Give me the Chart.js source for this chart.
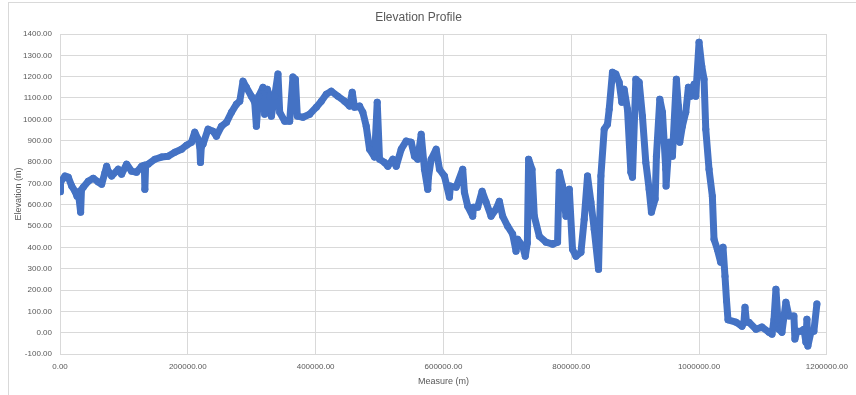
<!DOCTYPE html>
<html>
<head>
<meta charset="utf-8">
<script src="https://cdn.jsdelivr.net/npm/chart.js@4"></script>
<style>
  body { margin: 0; background: #fff; }
  #box {
    position: absolute; left: 8px; top: 2px;
    width: 847px; height: 392px;
    border-left: 1px solid #d9d9d9;
    border-top: 1px solid #d9d9d9;
  }
</style>
</head>
<body>
<div id="box"><canvas id="elevChart" width="847" height="392"></canvas></div>
<script>
// measure along the route (m)
let measure = [
    0, 800, 7800, 13000, 18300, 23400, 26600, 28600, 32300, 33600,
    36400, 44200, 52000, 59800, 65200, 70300, 73000, 75000, 80800, 91100,
    96400, 104200, 112000, 119800, 127700, 132000, 132800, 134000, 138000, 148400,
    158900, 169200, 179700, 190200, 198000, 205800, 210900, 216100, 218800, 219800,
    221100, 223900, 231700, 239500, 244800, 252700, 260500, 268300, 276100, 281300,
    286400, 291700, 299500, 304700, 307300, 310900, 317700, 320300, 324500, 328100,
    330800, 335900, 341100, 343800, 351600, 359400, 364500, 368300, 371400, 380200,
    390600, 401100, 408900, 416700, 424500, 434800, 445300, 453100, 457300, 460900,
    468800, 473900, 479200, 484400, 492200, 496400, 500000, 507800, 513000, 520800,
    526100, 533900, 541700, 549500, 554700, 559800, 565200, 570300, 575500, 576600,
    580800, 588600, 593800, 601600, 609400, 610900, 619800, 630200, 632800, 638000,
    645800, 646900, 653600, 660500, 666700, 674500, 682300, 687500, 692700, 700500,
    708300, 713600, 716100, 723900, 728100, 731300, 733300, 738600, 742200, 750000,
    760500, 770800, 778600, 781300, 786400, 791700, 796900, 802000, 807300, 815200,
    820300, 825500, 830800, 835900, 842700, 846400, 851600, 856700, 859400, 864500,
    869800, 875000, 879200, 882800, 888000, 893300, 895800, 901100, 906300, 911400,
    916700, 921900, 925500, 931300, 933300, 938600, 942700, 947900, 948400, 953100,
    958300, 964500, 967700, 969800, 973900, 979200, 983300, 987000, 992200, 994800,
    1000000, 1004200, 1007800, 1010500, 1015600, 1020800, 1023400, 1028600, 1033900, 1037500,
    1040600, 1043000, 1045300, 1057800, 1067200, 1070300, 1071900, 1074200, 1078100, 1089100,
    1098400, 1109400, 1114100, 1117200, 1120300, 1123400, 1125000, 1129700, 1135900, 1140600,
    1148400, 1150000, 1153100, 1159400, 1164100, 1167200, 1168800, 1170300, 1175000, 1179700,
    1184400
];

// elevation (m)
let elevation = [
    660, 706, 734, 729, 687, 663, 640, 659, 565, 670,
    682, 710, 724, 706, 696, 750, 780, 760, 734, 766,
    743, 790, 757, 752, 780, 785, 672, 785, 790, 813,
    823, 827, 846, 860, 879, 893, 940, 907, 870, 798,
    870, 884, 954, 944, 921, 968, 986, 1033, 1071, 1085,
    1179, 1150, 1108, 1080, 968, 1108, 1150, 1024, 1141, 1108,
    1015, 1108, 1212, 1033, 991, 991, 1198, 1188, 1015, 1010,
    1024, 1057, 1085, 1118, 1132, 1108, 1085, 1062, 1127, 1057,
    1062, 1033, 968, 860, 823, 1080, 813, 798, 780, 813,
    780, 860, 898, 893, 827, 813, 930, 766, 672, 730,
    813, 860, 766, 734, 635, 687, 682, 766, 659, 593,
    546, 588, 588, 663, 612, 546, 579, 616, 546, 499,
    462, 382, 438, 406, 358, 420, 813, 766, 546, 452,
    424, 415, 424, 752, 687, 546, 672, 391, 358, 377,
    532, 734, 612, 485, 297, 734, 954, 977, 1047, 1221,
    1212, 1174, 1080, 1141, 1047, 752, 729, 1188, 1174, 1015,
    798, 672, 565, 626, 827, 1094, 1033, 766, 687, 893,
    827, 1188, 1062, 893, 968, 1033, 1150, 1108, 1165, 1108,
    1361, 1249, 1188, 954, 766, 640, 438, 391, 330, 400,
    265, 150, 60, 49, 30, 50, 119, 50, 49, 16,
    26, 2, -7, 60, 204, 60, 16, 2, 143, 78,
    78, -30, 7, 7, 16, -45, 63, -63, 2, 7,
    134
];

let xTicks = [0, 200000, 400000, 600000, 800000, 1000000, 1200000];
let yTicks = [-100, 0, 100, 200, 300, 400, 500, 600, 700, 800, 900, 1000, 1100, 1200, 1300, 1400];

let points = measure.map((m, i) => ({ x: m, y: elevation[i] }));

let gray = "#595959";
let gridGray = "#d9d9d9";
let fontFam = "'Liberation Sans', Arial, sans-serif";

new Chart(document.getElementById("elevChart").getContext("2d"), {
    type: "scatter",
    data: {
        datasets: [
            {
                label: "Elevation",
                data: points,
                showLine: true,
                borderColor: "#4472C4",
                backgroundColor: "#4472C4",
                borderWidth: 7,
                borderJoinStyle: "round",
                borderCapStyle: "round",
                pointRadius: 3.5,
                pointBorderWidth: 0,
                tension: 0,
            },
        ],
    },
    options: {
        responsive: false,
        animation: false,
        layout: { padding: { left: 0, right: 28, top: 0, bottom: 0 } },
        plugins: {
            legend: { display: false },
            tooltip: { enabled: false },
            title: {
                display: true,
                text: "Elevation Profile",
                color: gray,
                font: { family: fontFam, size: 12, weight: "normal" },
                padding: { top: 7, bottom: 9.6 },
            },
        },
        scales: {
            x: {
                type: "linear",
                min: xTicks[0],
                max: xTicks[xTicks.length - 1],
                afterBuildTicks: (s) => { s.ticks = xTicks.map((v) => ({ value: v })); },
                afterFit: (s) => { s.height = 41; },
                ticks: {
                    color: gray,
                    padding: 8,
                    maxRotation: 0,
                    font: { family: fontFam, size: 8 },
                    callback: (v) => Number(v).toFixed(2),
                },
                grid: { color: gridGray, drawTicks: false },
                border: { color: gridGray },
                title: {
                    display: true,
                    text: "Measure (m)",
                    color: gray,
                    font: { family: fontFam, size: 9 },
                    padding: { top: 4, bottom: 8 },
                },
            },
            y: {
                min: yTicks[0],
                max: yTicks[yTicks.length - 1],
                afterBuildTicks: (s) => { s.ticks = yTicks.map((v) => ({ value: v })); },
                afterFit: (s) => { s.width = 51; },
                ticks: {
                    color: gray,
                    padding: 8,
                    font: { family: fontFam, size: 8 },
                    callback: (v) => Number(v).toFixed(2),
                },
                grid: { color: gridGray, drawTicks: false },
                border: { color: gridGray },
                title: {
                    display: true,
                    text: "Elevation (m)",
                    color: gray,
                    font: { family: fontFam, size: 9 },
                    padding: { top: 4, bottom: 4 },
                },
            },
        },
    },
});
</script>
</body>
</html>
